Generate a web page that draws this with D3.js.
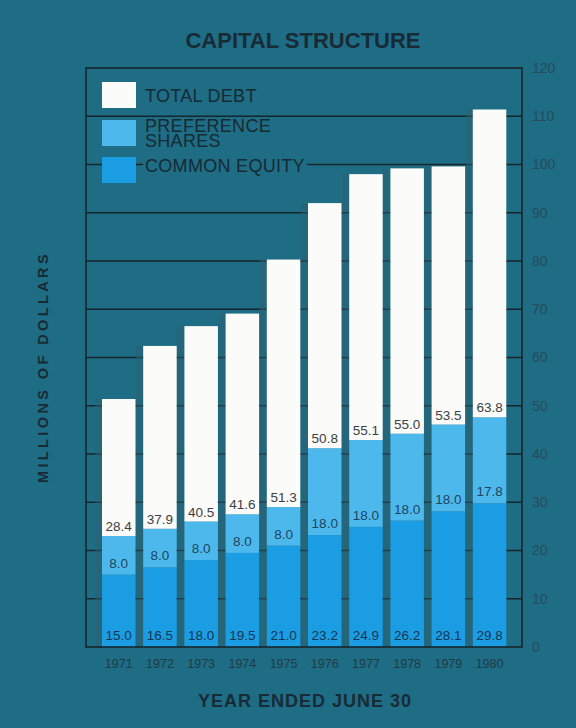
<!DOCTYPE html>
<html><head><meta charset="utf-8">
<script src="https://cdn.jsdelivr.net/npm/d3@7"></script>
<style>html,body{margin:0;padding:0;background:#1f6d85;}svg{display:block}</style>
</head><body>
<svg id="chart" width="576" height="728"></svg>
<script>
const years = ["1971","1972","1973","1974","1975","1976","1977","1978","1979","1980"];
const commonEquity = [15.0,16.5,18.0,19.5,21.0,23.2,24.9,26.2,28.1,29.8];
const preferenceShares = [8.0,8.0,8.0,8.0,8.0,18.0,18.0,18.0,18.0,17.8];
const totalDebt = [28.4,37.9,40.5,41.6,51.3,50.8,55.1,55.0,53.5,63.8];
const yTicks = [0,10,20,30,40,50,60,70,80,90,100,110,120];
const legendItems = [
  {key:"debt", lines:["TOTAL DEBT"]},
  {key:"pref", lines:["PREFERENCE","SHARES"]},
  {key:"common", lines:["COMMON EQUITY"]}
];

const BG = "#1f6d85";
const colors = {common:"#1b9de4", pref:"#4db8ec", debt:"#fbfbf9"};
const dark = "#172b36";
const font = "'Liberation Sans', Arial, sans-serif";

const svg = d3.select("#chart");
svg.append("rect").attr("width",576).attr("height",728).attr("fill",BG);

const pLeft = 86, pRight = 522, pTop = 68, pBottom = 647;
const y = d3.scaleLinear().domain([0,120]).range([pBottom, pTop]);
const x = d3.scaleBand().domain(years).range([102, 506.3]).paddingInner(0.187).paddingOuter(0);

// gridlines
svg.append("g").selectAll("line").data(yTicks.filter(t=>t>0 && t<120)).join("line")
  .attr("x1", pLeft).attr("x2", pRight)
  .attr("y1", d=>y(d)).attr("y2", d=>y(d))
  .attr("stroke", "#15252c").attr("stroke-width", 1.6);

// stacked data
const rows = years.map((yr,i)=>({year:yr, common:commonEquity[i], pref:preferenceShares[i], debt:totalDebt[i]}));
const stack = d3.stack().keys(["common","pref","debt"])(rows);

// subtle shadow on left side of bars
svg.append("g").selectAll("rect").data(rows).join("rect")
  .attr("x", d=>x(d.year)-7).attr("width", 7)
  .attr("y", d=>y(d.common+d.pref+d.debt)).attr("height", d=>pBottom - y(d.common+d.pref+d.debt))
  .attr("fill", "#2c5f70").attr("opacity", 0.5);

const g = svg.append("g");
stack.forEach(s=>{
  g.append("g").selectAll("rect").data(s).join("rect")
    .attr("x", d=>x(d.data.year)).attr("width", x.bandwidth())
    .attr("y", d=>y(d[1])).attr("height", d=>y(d[0])-y(d[1]))
    .attr("fill", colors[s.key]);
});

// value labels
const lab = svg.append("g").attr("font-family", font).attr("font-size", 13.5).attr("text-anchor","middle");
lab.selectAll("text.c").data(rows).join("text").attr("class","c")
  .attr("x", d=>x(d.year)+x.bandwidth()/2).attr("y", y(0)-7)
  .attr("fill", "#143752").text(d=>d.common.toFixed(1));
lab.selectAll("text.p").data(rows).join("text").attr("class","p")
  .attr("x", d=>x(d.year)+x.bandwidth()/2).attr("y", d=>y(d.common)-7)
  .attr("fill", "#1d4660").text(d=>d.pref.toFixed(1));
lab.selectAll("text.d").data(rows).join("text").attr("class","d")
  .attr("x", d=>x(d.year)+x.bandwidth()/2).attr("y", d=>y(d.common+d.pref)-5)
  .attr("fill", "#3a4048").text(d=>d.debt.toFixed(1));

// frame
svg.append("rect").attr("x",pLeft).attr("y",pTop).attr("width",pRight-pLeft).attr("height",pBottom-pTop)
  .attr("fill","none").attr("stroke","#15252c").attr("stroke-width",1.6);

// right axis labels
const yAxis = d3.axisRight(y).tickValues(yTicks).tickSize(0).tickPadding(10).tickFormat(d3.format("d"));
const ya = svg.append("g").attr("transform",`translate(${pRight},0)`).call(yAxis);
ya.select(".domain").remove();
ya.selectAll("text").attr("font-family",font).attr("font-size",14).attr("fill","#254c5c");

// x axis labels
const xAxis = d3.axisBottom(x).tickSize(0).tickPadding(12);
const xa = svg.append("g").attr("transform",`translate(0,${pBottom})`).call(xAxis);
xa.select(".domain").remove();
xa.selectAll("text").attr("font-family",font).attr("font-size",12.5).attr("fill","#1f3b46");

// legend
const legY = [82, 120, 157];
const legBase = [[102],[132,147],[172]];
const leg = svg.append("g");
legendItems.forEach((it,i)=>{
  leg.append("rect").attr("x",102).attr("y",legY[i]).attr("width",34).attr("height",26).attr("fill",colors[it.key]);
  const t = leg.append("text").attr("font-family",font).attr("font-size",18).attr("fill","#152a33")
    .attr("letter-spacing",0.3);
  it.lines.forEach((ln,j)=>{
    t.append("tspan").attr("x",145).attr("y", legBase[i][j]).text(ln);
  });
  const bb = t.node().getBBox();
  leg.insert("rect", () => t.node()).attr("x",bb.x-2).attr("y",bb.y+3).attr("width",bb.width+4).attr("height",bb.height-5)
    .attr("fill",BG);
});

// titles
svg.append("text").attr("x",303).attr("y",48).attr("text-anchor","middle")
  .attr("font-family",font).attr("font-weight","bold").attr("font-size",22)
  .attr("fill",dark).text("CAPITAL STRUCTURE");
svg.append("text").attr("x",305).attr("y",707).attr("text-anchor","middle")
  .attr("font-family",font).attr("font-weight","bold").attr("font-size",18).attr("letter-spacing",1)
  .attr("fill",dark).text("YEAR ENDED JUNE 30");
svg.append("text").attr("transform","translate(48,367) rotate(-90)").attr("text-anchor","middle")
  .attr("font-family",font).attr("font-weight","bold").attr("font-size",14.5).attr("letter-spacing",3.4)
  .attr("fill",dark).text("MILLIONS OF DOLLARS");
</script>
</body></html>
